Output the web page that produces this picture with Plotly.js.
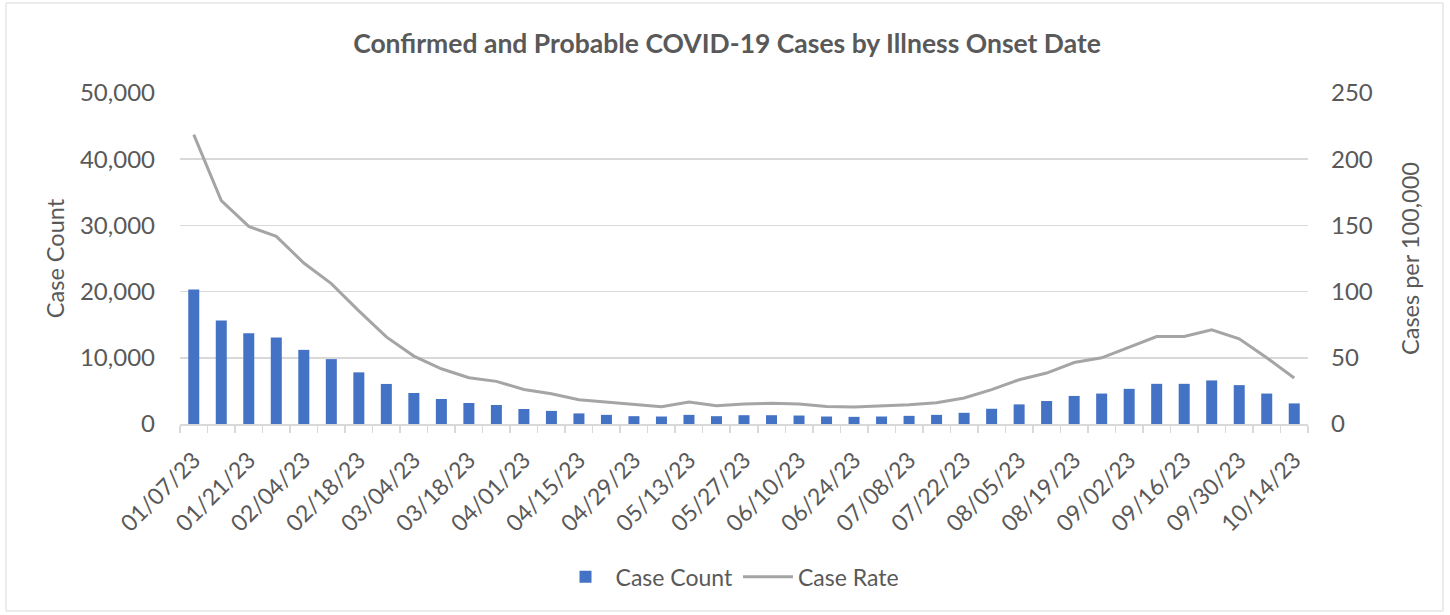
<!DOCTYPE html>
<html><head><meta charset="utf-8">
<script src="https://cdn.plot.ly/plotly-3.0.1.min.js"></script>
<style>html,body{margin:0;padding:0;background:#fff;}#chart{width:1450px;height:615px;}</style>
</head><body><div id="chart"></div>
<script>
const weeks = ["2023-01-07","2023-01-14","2023-01-21","2023-01-28","2023-02-04","2023-02-11","2023-02-18","2023-02-25",
"2023-03-04","2023-03-11","2023-03-18","2023-03-25","2023-04-01","2023-04-08","2023-04-15","2023-04-22","2023-04-29",
"2023-05-06","2023-05-13","2023-05-20","2023-05-27","2023-06-03","2023-06-10","2023-06-17","2023-06-24","2023-07-01",
"2023-07-08","2023-07-15","2023-07-22","2023-07-29","2023-08-05","2023-08-12","2023-08-19","2023-08-26","2023-09-02",
"2023-09-09","2023-09-16","2023-09-23","2023-09-30","2023-10-07","2023-10-14"];
const caseCount = [20300,15650,13700,13050,11200,9800,7800,6050,4680,3780,3170,2870,2270,1980,1600,1380,1180,1130,1380,1180,
1330,1330,1280,1130,1080,1130,1230,1380,1690,2300,2960,3470,4240,4600,5310,6070,6070,6580,5870,4600,3110];
const caseRate = [218.6,168.8,149.2,141.7,121.6,106.0,85.4,65.8,51.3,41.7,34.9,32.2,26.1,22.8,18.4,16.6,14.3,13.0,16.6,13.8,
15.1,15.6,15.1,13.3,12.8,13.5,14.5,16.1,19.6,26.0,33.4,38.5,46.4,50.0,57.9,66.1,66.1,71.2,64.3,50.0,34.7];
const leftTicks = [0,10000,20000,30000,40000,50000];
const rightTicks = [0,50,100,150,200,250];

const grey = '#595959';
const font = 'Lato, "Open Sans", sans-serif';
const DAY = 86400000;

const traces = [
  {type:'bar', name:'Case Count', x:weeks, y:caseCount, marker:{color:'#4472c4'}, yaxis:'y'},
  {type:'scatter', mode:'lines', name:'Case Rate', x:weeks, y:caseRate, line:{color:'#a5a5a5', width:3}, yaxis:'y2'}
];

const layout = {
  width:1450, height:615,
  margin:{l:180, r:142, t:93, b:191},
  paper_bgcolor:'#fff', plot_bgcolor:'#fff',
  font:{family:font, color:grey, size:23},
  title:{text:'<b>Confirmed and Probable COVID-19 Cases by Illness Onset Date</b>', font:{size:26.5, color:grey, family:font},
         x:727/1450, xref:'container', xanchor:'center', y:1-44/615, yref:'container', yanchor:'middle'},
  bargap:0.6,
  showlegend:true,
  legend:{orientation:'h', x:0.4876, xanchor:'center', y:-0.462, yanchor:'middle', font:{size:23, color:grey},
          itemwidth:50, traceorder:'normal'},
  xaxis:{type:'date', range:['2023-01-03 12:00','2023-10-17 12:00'],
         tickmode:'linear', tick0:'2023-01-07', dtick:14*DAY, tickformat:'%m/%d/%y', tickangle:-45,
         ticks:'', showgrid:false, showline:true, linecolor:'#d9d9d9', linewidth:1.5,
         tickfont:{size:23, color:grey}, ticklabelstandoff:12,
         minor:{ticks:'outside', tickmode:'linear', tick0:'2023-01-03 12:00', dtick:7*DAY, ticklen:7, tickcolor:'#d9d9d9', tickwidth:1.5, showgrid:false},
         fixedrange:true},
  yaxis:{range:[0,50000], tickvals:leftTicks, tickformat:',', showgrid:true, gridcolor:'#d9d9d9', gridwidth:1.5,
         zeroline:false, showline:false, ticks:'', tickfont:{size:24, color:grey}, ticklabelstandoff:24,
         title:{text:'Case Count', font:{size:23.5, color:grey}, standoff:8}},
  yaxis2:{range:[0,250], tickvals:rightTicks, overlaying:'y', side:'right', showgrid:false, zeroline:false,
          showline:false, ticks:'', tickfont:{size:24, color:grey}, ticklabelstandoff:22,
          title:{text:'Cases per 100,000', font:{size:23.5, color:grey}, standoff:30}},
  shapes:[{type:'rect', xref:'paper', yref:'paper', x0:(6-180)/1128, x1:(1443-180)/1128, y0:(424-611)/331, y1:(424-3)/331,
           line:{color:'#d9d9d9', width:1}, fillcolor:'rgba(0,0,0,0)', layer:'below'}]
};

Plotly.newPlot('chart', traces, layout, {displayModeBar:false, staticPlot:true});
</script></body></html>
